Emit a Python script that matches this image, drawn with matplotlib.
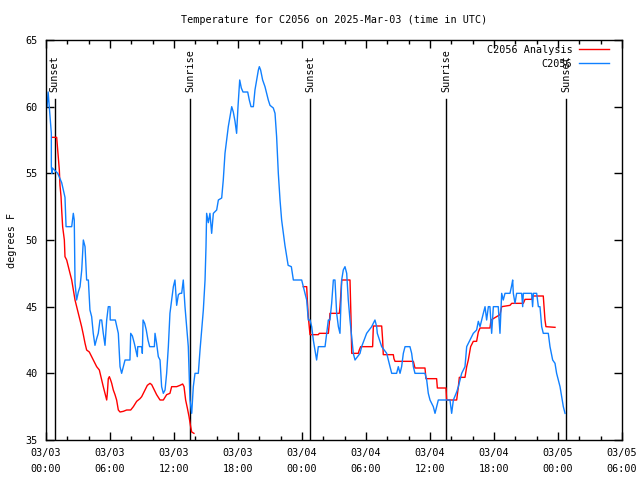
import numpy as np
import matplotlib
matplotlib.use("Agg")
import matplotlib.pyplot as plt

# hours since 2025-03-03 00:00 UTC, degrees F
obs_hours = [0.1, 0.2, 0.5, 0.5, 0.55, 0.6, 1.1, 1.47, 1.78, 1.88, 2.41, 2.56, 2.65, 2.72, 2.87,
             3.03, 3.19, 3.35, 3.5, 3.66, 3.81, 3.97, 4.12, 4.28, 4.43, 4.59, 4.75, 4.9, 5.06,
             5.22, 5.37, 5.53, 5.69, 5.84, 6.0, 6.02, 6.5, 6.78, 6.94, 7.09, 7.25, 7.41, 7.87,
             7.94, 8.1, 8.28, 8.56, 8.6, 9.0, 9.03, 9.1, 9.25, 9.4, 9.56, 9.72, 10.16, 10.22,
             10.37, 10.53, 10.69, 10.84, 11.0, 11.16, 11.31, 11.47, 11.62, 11.78, 11.94, 12.09,
             12.25, 12.41, 12.56, 12.72, 12.87, 13.03, 13.19, 13.34, 13.5, 13.66, 13.81, 13.97,
             14.28, 14.44, 14.59, 14.75, 14.91, 15.0, 15.06, 15.22, 15.37, 15.53, 15.69, 16.0,
             16.16, 16.47, 16.62, 16.78, 16.94, 17.09, 17.25, 17.41, 17.56, 17.72, 17.87, 18.0,
             18.16, 18.31, 18.47, 18.91, 19.06, 19.22, 19.44, 19.59, 19.75, 19.91, 20.0, 20.12,
             20.31, 20.53, 20.69, 20.84, 21.0, 21.31, 21.47, 21.62, 21.78, 21.94, 22.09, 22.4,
             22.7, 23.0, 23.19, 23.97, 24.12, 24.28, 24.44, 24.59, 24.75, 24.91, 25.06, 25.22,
             25.37, 25.53, 26.16, 26.31, 26.47, 26.62, 26.78, 26.94, 27.09, 27.25, 27.41, 27.56,
             27.72, 27.87, 28.03, 28.19, 28.34, 28.5, 28.66, 28.81, 28.97, 29.44, 29.59, 30.06,
             30.53, 30.84, 31.0, 31.06, 31.47, 31.94, 32.09, 32.25, 32.41, 32.87, 33.03, 33.19,
             33.34, 33.5, 33.66, 34.12, 34.28, 34.44, 34.59, 35.53, 35.69, 35.84, 36.0, 36.31,
             36.47, 36.62, 36.78, 37.87, 38.03, 38.19, 38.5, 38.66, 38.97, 39.28, 39.44, 39.75,
             39.91, 40.06, 40.37, 40.53, 40.69, 40.84, 41.0, 41.16, 41.31, 41.47, 41.62, 41.78,
             41.94, 42.4, 42.56, 42.72, 42.87, 43.03, 43.5, 43.66, 43.75, 43.81, 43.97, 44.12,
             44.59, 44.69, 44.75, 45.53, 45.62, 45.69, 46.0, 46.16, 46.31, 46.47, 46.62, 47.09,
             47.25, 47.5, 47.72, 47.87, 48.03, 48.19, 48.34, 48.5, 48.66]
obs_temp = [60.0, 61.1, 58.0, 55.5, 55.0, 55.4, 55.0, 54.3, 53.2, 51.0, 51.0, 52.0, 51.5, 46.8, 45.5,
            46.1, 46.5, 47.75, 50.0, 49.5, 47.0, 47.0, 44.75, 44.25, 43.0, 42.1, 42.6, 43.0, 44.0,
            44.0, 43.0, 42.1, 44.0, 45.0, 45.0, 44.0, 44.0, 43.0, 40.5, 40.0, 40.5, 41.0, 41.0,
            43.0, 42.8, 42.25, 41.25, 42.0, 42.0, 41.5, 44.0, 43.75, 43.25, 42.5, 42.0, 42.0, 43.0,
            42.25, 41.25, 41.0, 39.0, 38.5, 38.75, 40.0, 42.0, 44.5, 45.5, 46.5, 47.0,
            45.1, 45.9, 46.0, 46.0, 47.0, 45.0, 43.5, 42.0, 38.0, 37.0, 39.0, 40.0,
            40.0, 41.75, 43.25, 44.75, 47.0, 49.5, 52.0, 51.3, 52.0, 50.5, 52.0, 52.25,
            53.0, 53.15, 54.5, 56.5, 57.5, 58.5, 59.25, 60.0, 59.6, 58.9, 58.0, 60.0,
            62.0, 61.4, 61.1, 61.1, 60.5, 60.0, 60.0, 61.25, 62.0, 62.75, 63.0, 62.75,
            62.0, 61.5, 61.0, 60.5, 60.1, 59.9, 59.5, 57.75, 55.0, 53.0, 51.5, 49.6,
            48.1, 48.0, 47.0, 47.0, 46.5, 46.0, 45.5, 44.0, 44.0, 43.5, 42.5, 41.75,
            41.0, 42.0, 42.0, 43.0, 44.0, 44.0, 45.25, 47.0, 47.0, 44.5, 43.5, 43.0,
            47.0, 47.75, 48.0, 47.5, 45.5, 44.0, 42.75, 41.5, 41.0, 41.5, 42.0, 43.0,
            43.5, 44.0, 43.5, 43.0, 42.0, 41.5, 41.0, 40.5, 40.0, 40.0, 40.5, 40.0,
            40.5, 41.5, 42.0, 42.0, 41.5, 40.5, 40.0, 40.0, 39.5, 38.5, 38.0, 37.5,
            37.0, 37.5, 38.0, 38.0, 37.0, 38.0, 38.6, 39.0, 40.0, 40.5, 42.0, 42.5,
            42.75, 43.0, 43.25, 43.9, 43.5, 44.0, 44.5, 45.0, 44.0, 45.0, 45.0, 43.0,
            45.0, 45.0, 43.0, 46.0, 45.5, 46.0, 46.0, 46.6, 47.0, 46.0, 45.25, 46.0,
            46.0, 45.0, 46.0, 46.0, 45.0, 46.0, 46.0, 45.0, 45.0, 43.5, 43.0, 43.0,
            42.0, 41.0, 40.75, 40.0, 39.5, 39.0, 38.25, 37.5, 37.0]

ana_hours = [0.63, 1.0, 1.16, 1.25, 1.31, 1.41, 1.47, 1.56, 1.72, 1.78, 1.94, 2.09, 2.25, 2.41,
             2.56, 2.72, 2.87, 3.03, 3.19, 3.34, 3.5, 3.66, 3.81, 4.06, 4.28, 4.59, 4.75, 5.0,
             5.22, 5.37, 5.53, 5.69, 5.75, 5.84, 5.94, 6.06, 6.16, 6.31, 6.47, 6.62, 6.78, 6.94,
             7.25, 7.56, 7.94, 8.19, 8.5, 8.81, 8.97, 9.28, 9.5, 9.75, 9.91, 10.06, 10.37, 10.69,
             11.0, 11.31, 11.62, 11.78, 12.25, 12.56, 12.81, 12.94, 13.09, 13.25, 13.41, 13.56,
             13.66, 13.87, 19.0,
             24.12, 24.44, 24.5, 24.59, 24.75, 25.53, 25.62, 26.47, 26.56, 26.62, 27.5, 27.56,
             27.62, 27.72, 28.5, 28.59, 28.66, 29.28, 29.37, 29.5, 30.62, 30.69, 31.47, 31.56,
             31.62, 32.56, 32.62, 32.72, 34.44, 34.59, 35.53, 35.62, 36.62, 36.69, 37.5, 37.56,
             38.5, 38.66, 38.75, 39.28, 39.44, 39.59, 39.81, 40.06, 40.37, 40.53, 40.69, 41.62,
             41.72, 42.56, 42.72, 43.5, 43.66, 44.75, 44.91, 45.53, 45.62, 46.62, 46.78, 46.87,
             47.72]
ana_temp = [57.7, 57.7, 56.1, 55.25, 54.1, 53.25, 52.25, 51.0, 50.0, 48.75, 48.5, 48.0, 47.5, 47.0,
            46.25, 45.5, 45.0, 44.5, 44.0, 43.5, 42.9, 42.25, 41.75, 41.6, 41.25, 40.75, 40.5, 40.25,
            39.5, 39.0, 38.5, 38.0, 38.5, 39.6, 39.75, 39.5, 39.25, 38.75, 38.4, 38.0, 37.25, 37.1,
            37.15, 37.25, 37.25, 37.5, 37.9, 38.1, 38.25, 38.75, 39.1, 39.25, 39.15, 38.9, 38.4, 38.0,
            38.0, 38.4, 38.5, 39.0, 39.0, 39.1, 39.2, 39.0, 38.0, 37.4, 36.75, 36.0,
            35.6, 35.5, np.nan,
            46.5, 46.5, 45.5, 44.25, 42.9, 42.9, 43.0, 43.0, 43.75, 44.5, 44.5, 45.0,
            45.7, 47.0, 47.0, 44.25, 41.5, 41.5, 41.75, 42.0, 42.0, 43.55, 43.55, 42.5,
            41.4, 41.4, 41.1, 40.9, 40.9, 40.4, 40.4, 39.6, 39.6, 38.9, 38.9, 38.0,
            38.0, 39.0, 39.7, 39.7, 40.5, 41.0, 42.0, 42.4, 42.4, 43.1, 43.4, 43.4,
            44.0, 44.4, 45.0, 45.1, 45.25, 45.25, 45.55, 45.55, 45.8, 45.8, 44.0, 43.5,
            43.45]

sun_hours = [0.8, 13.5, 24.75, 37.5, 48.75]
sun_labels = ["Sunset", "Sunrise", "Sunset", "Sunrise", "Sunset"]

tick_hours = [0, 6, 12, 18, 24, 30, 36, 42, 48, 54]
tick_labels = ["03/03\n00:00", "03/03\n06:00", "03/03\n12:00", "03/03\n18:00",
               "03/04\n00:00", "03/04\n06:00", "03/04\n12:00", "03/04\n18:00",
               "03/05\n00:00", "03/05\n06:00"]

plt.rcParams['font.family'] = ['DejaVu Sans Mono']
plt.rcParams['font.size'] = 7.3

fig = plt.figure(figsize=(6.4, 4.8), dpi=100)
ax = fig.add_axes([46/640, 40/480, 576/640, 400/480])

for h, lab in zip(sun_hours, sun_labels):
    ax.plot([h, h], [35, 60.6], color="black", lw=1)
    ax.text(h, 61.1, lab, rotation=90, ha="center", va="bottom", fontsize=7.3)

ax.plot(ana_hours, ana_temp, color="#ff0000", lw=1, label="C2056 Analysis")
ax.plot(obs_hours, obs_temp, color="#1080ff", lw=1, label="C2056")

ax.set_xlim(0, 54)
ax.set_ylim(35, 65)
ax.set_xticks(tick_hours)
ax.set_xticklabels(tick_labels, linespacing=1.75)
ax.set_xticks(np.arange(0, 55, 2), minor=True)
ax.set_yticks(np.arange(35, 66, 5))
ax.tick_params(direction="in", top=True, right=True, length=6, width=1, pad=6)
ax.tick_params(which="minor", direction="in", top=True, length=3, width=1)
for s in ax.spines.values():
    s.set_linewidth(1)

ax.set_ylabel("degrees F", fontsize=7.3, labelpad=6)
ax.set_title("Temperature for C2056 on 2025-Mar-03 (time in UTC)", fontsize=7.3, pad=12)
ax.legend(loc="upper right", frameon=False, markerfirst=False, handlelength=2.9,
          borderaxespad=0.15, borderpad=0.3, labelspacing=0.4, handletextpad=0.7,
          fontsize=7.3, bbox_to_anchor=(0.985, 1.0))

fig.savefig("out.png", dpi=100)
